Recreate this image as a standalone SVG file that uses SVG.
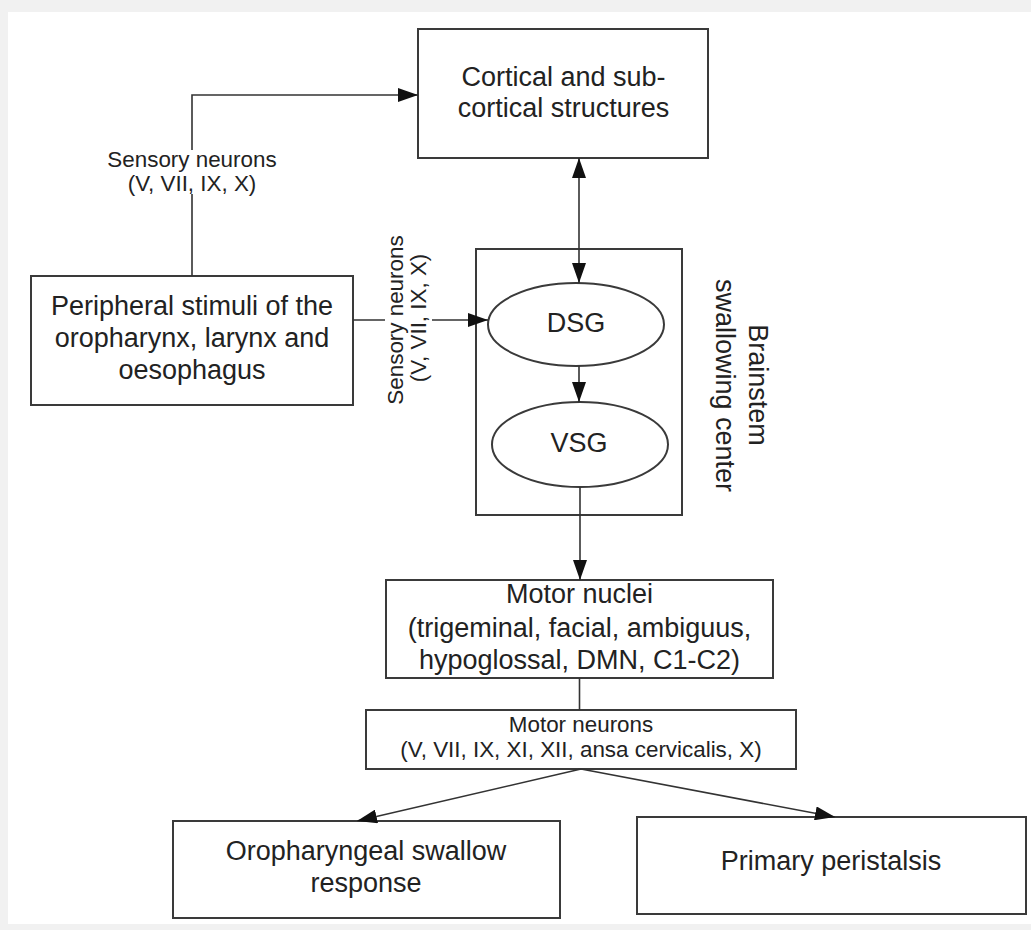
<svg xmlns="http://www.w3.org/2000/svg" width="1031" height="930" viewBox="0 0 1031 930">
  <style>
    .box { fill: #ffffff; stroke: #3a3a3a; stroke-width: 2; }
    .frame { fill: none; stroke: #3a3a3a; stroke-width: 2; }
    .conn { fill: none; stroke: #333333; stroke-width: 1.6; }
    .t { font-family: "Liberation Sans", Arial, sans-serif; fill: #222222; text-anchor: middle; }
    .big { font-size: 27px; }
    .small { font-size: 22.4px; }
  </style>
  <defs>
    <marker id="arrow" markerUnits="userSpaceOnUse" markerWidth="20" markerHeight="14" refX="20" refY="7" orient="auto-start-reverse">
      <path d="M0,0 L20,7 L0,14 z" fill="#111111"/>
    </marker>
  </defs>

  <!-- page -->
  <rect x="0" y="0" width="1031" height="930" fill="#f1f1f1"/>
  <rect x="8" y="12" width="1023" height="912" fill="#ffffff"/>

  <g id="cortical">
    <rect class="box" x="418" y="29" width="290" height="129"/>
    <text class="t big" x="563.5" y="86">Cortical and sub-</text>
    <text class="t big" x="563.5" y="117">cortical structures</text>
  </g>

  <g id="peripheral">
    <rect class="box" x="31" y="276" width="322" height="129"/>
    <text class="t big" x="192" y="315">Peripheral stimuli of the</text>
    <text class="t big" x="192" y="347">oropharynx, larynx and</text>
    <text class="t big" x="192" y="379">oesophagus</text>
  </g>

  <g id="brainstem">
    <rect class="frame" x="476" y="249" width="206" height="266"/>
    <text class="t big" transform="translate(748.5,385) rotate(90)">Brainstem</text>
    <text class="t big" transform="translate(716,385.5) rotate(90)">swallowing center</text>
  </g>

  <g id="dsg">
    <ellipse class="box" cx="576" cy="324.5" rx="88" ry="41.5"/>
    <text class="t big" x="576" y="332">DSG</text>
  </g>

  <g id="vsg">
    <ellipse class="box" cx="580" cy="444.5" rx="88" ry="42.5"/>
    <text class="t big" x="579" y="452">VSG</text>
  </g>

  <g id="motor-nuclei">
    <rect class="box" x="386" y="580" width="387" height="98"/>
    <text class="t big" x="579.5" y="603">Motor nuclei</text>
    <text class="t big" x="579.5" y="636.5">(trigeminal, facial, ambiguus,</text>
    <text class="t big" x="579.5" y="669">hypoglossal, DMN, C1-C2)</text>
  </g>

  <g id="motor-neurons">
    <rect class="box" x="366" y="710" width="430" height="59"/>
    <text class="t small" x="581" y="732">Motor neurons</text>
    <text class="t small" x="581" y="757">(V, VII, IX, XI, XII, ansa cervicalis, X)</text>
  </g>

  <g id="oropharyngeal">
    <rect class="box" x="173" y="821" width="387" height="97"/>
    <text class="t big" x="366" y="860">Oropharyngeal swallow</text>
    <text class="t big" x="366" y="892">response</text>
  </g>

  <g id="peristalsis">
    <rect class="box" x="637" y="817" width="389" height="97"/>
    <text class="t big" x="831" y="870">Primary peristalsis</text>
  </g>

  <!-- connectors, drawn over the nodes so arrow tips stay visible -->
  <g id="connectors">
    <path class="conn" d="M192,276 V194 M192,150 V95 H418" marker-end="url(#arrow)"/>
    <path class="conn" d="M353,320 H385 M432,320 H488" marker-end="url(#arrow)"/>
    <path class="conn" d="M579,158 V283" marker-start="url(#arrow)" marker-end="url(#arrow)"/>
    <path class="conn" d="M579,366 V402" marker-end="url(#arrow)"/>
    <path class="conn" d="M580,487 V580" marker-end="url(#arrow)"/>
    <path class="conn" d="M579.5,678 V710"/>
    <path class="conn" d="M581,769 L357,821" marker-end="url(#arrow)"/>
    <path class="conn" d="M581,769 L835,817" marker-end="url(#arrow)"/>
    <!-- connector labels -->
    <text class="t small" x="192" y="167">Sensory neurons</text>
    <text class="t small" x="192" y="191">(V, VII, IX, X)</text>
    <text class="t small" transform="translate(402.5,320) rotate(-90)">Sensory neurons</text>
    <text class="t small" transform="translate(426,318) rotate(-90)">(V, VII, IX, X)</text>
  </g>
</svg>
